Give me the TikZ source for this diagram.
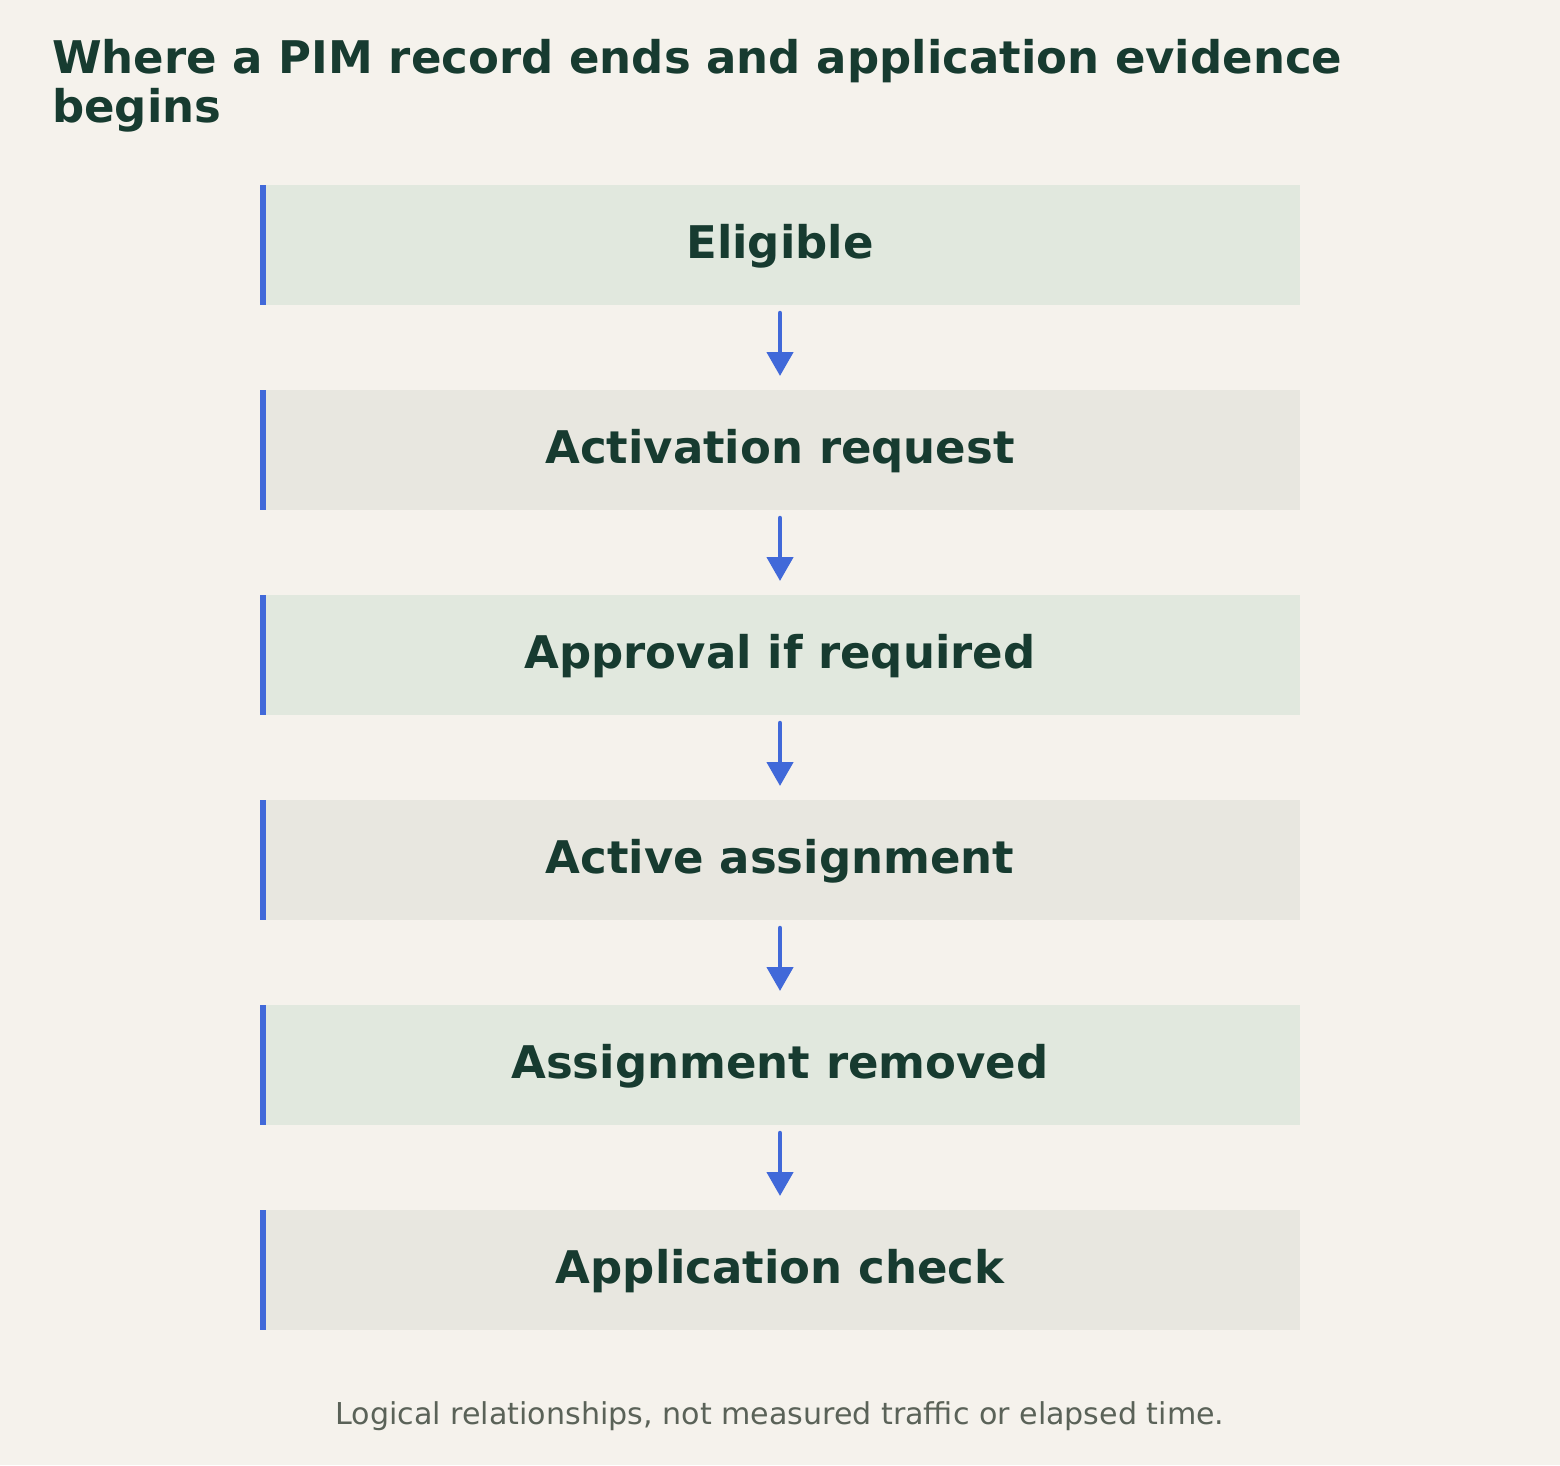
\documentclass[tikz,border=0pt]{standalone}
\usepackage{fontspec}
\setmainfont{DejaVu Sans}
\usetikzlibrary{arrows.meta}
\definecolor{bgc}{HTML}{F5F2EC}
\definecolor{boxgreen}{HTML}{E1E8DE}
\definecolor{boxgrey}{HTML}{E8E7E0}
\definecolor{accent}{HTML}{4169D9}
\definecolor{ink}{HTML}{173B30}
\definecolor{muted}{HTML}{5A6258}
\begin{document}
\begin{tikzpicture}[x=1pt,y=1pt,
  stepbox/.style={draw=none,minimum width=1040pt,minimum height=120pt,inner sep=0pt,outer sep=0pt},
  steptext/.style={text=ink,font=\fontsize{45}{54}\selectfont\bfseries,anchor=base},
  titletext/.style={anchor=base west,text=ink,font=\fontsize{45}{54}\selectfont\bfseries,inner sep=0pt},
  flow/.style={draw=accent,line width=4.5pt,line cap=round,-{Triangle[width=26pt,length=24pt]},shorten <=8pt,shorten >=14pt},
  bar/.style={fill=accent}
]
\useasboundingbox (0,0) rectangle (1560,-1465);
\fill[bgc] (0,0) rectangle (1560,-1465);
\node[titletext] (title1) at (52,-73) {Where a PIM record ends and application evidence};
\node[titletext] (title2) at (52,-122) {begins};
\foreach \i/\txt/\col in {0/Eligible/boxgreen,1/Activation request/boxgrey,2/Approval if required/boxgreen,3/Active assignment/boxgrey,4/Assignment removed/boxgreen,5/Application check/boxgrey}{
  \node[stepbox,fill=\col] (b\i) at (780,-245-205*\i) {};
  \fill[bar] (260,-185-205*\i) rectangle (266,-305-205*\i);
  \node[steptext,inner sep=0pt] (t\i) at (780,-245-205*\i-13) {\txt};
}
\foreach \i [evaluate=\i as \j using int(\i+1)] in {0,...,4}{
  \draw[flow] (b\i.south) -- (b\j.north);
}
\node[anchor=base,text=muted,font=\fontsize{30.1}{36}\selectfont,inner sep=0pt] (foot) at (780,-1424) {Logical relationships, not measured traffic or elapsed time.};
\end{tikzpicture}
\end{document}
